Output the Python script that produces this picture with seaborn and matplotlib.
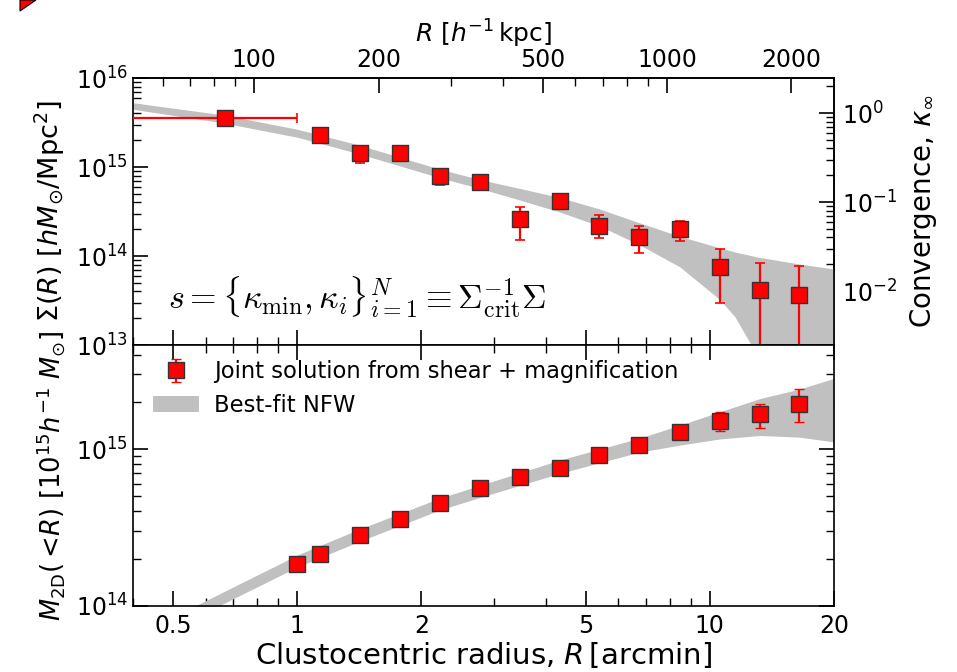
import numpy as np
import pandas as pd
import matplotlib
matplotlib.use("Agg")
import matplotlib.pyplot as plt
import seaborn as sns
from matplotlib.ticker import FixedLocator, FixedFormatter, LogLocator, NullFormatter, LogFormatterSciNotation
from matplotlib.patches import Patch, Polygon

# ---------------- data ----------------
# surface mass density profile
sigma_r = [0.668, 1.137, 1.416, 1.771, 2.215, 2.770, 3.467, 4.337, 5.40, 6.75, 8.47, 10.6, 13.25, 16.42]
sigma = [3.53e15, 2.29e15, 1.43e15, 1.45e15, 7.93e14, 6.84e14, 2.58e14, 4.18e14, 2.19e14, 1.62e14, 2.0e14, 7.47e13, 4.15e13, 3.65e13]
sigma_lo = [3.2e15, 2.1e15, 1.12e15, 1.3e15, 6.22e14, 6.1e14, 1.51e14, 3.37e14, 1.58e14, 1.07e14, 1.49e14, 2.99e13, 1e12, 1e12]
sigma_hi = [3.85e15, 2.5e15, 1.6e15, 1.6e15, 8.8e14, 7.6e14, 3.58e14, 4.6e14, 2.89e14, 2.19e14, 2.49e14, 1.19e14, 8.28e13, 7.73e13]
first_bin_left = 0.3
first_bin_right = 1.0

# best-fit NFW band, surface density
band_sig_r = [0.40, 0.665, 1.0, 1.41, 2.21, 2.80, 3.46, 4.33, 5.41, 6.77, 8.47, 10.6, 11.5, 12.6, 13.0, 16.5, 20.0]
band_sig_hi = [5.27e15, 3.84e15, 2.66e15, 1.77e15, 9.5e14, 7.14e14, 5.75e14, 4.54e14, 3.37e14, 2.35e14, 1.66e14, 1.23e14, 1.11e14, 1.01e14, 9.75e13, 8.13e13, 7.14e13]
band_sig_lo = [4.45e15, 3.12e15, 2.16e15, 1.41e15, 7.6e14, 5.66e14, 4.26e14, 3.12e14, 2.17e14, 1.33e14, 7.52e13, 3.21e13, 2.08e13, 1.0e13, 1e12, 1e12, 1e12]

# cumulative projected mass profile
mass_r = [1.0, 1.137, 1.416, 1.771, 2.215, 2.770, 3.467, 4.337, 5.40, 6.75, 8.47, 10.6, 13.25, 16.42]
mass = [1.85e14, 2.14e14, 2.82e14, 3.60e14, 4.55e14, 5.62e14, 6.61e14, 7.54e14, 9.16e14, 1.06e15, 1.28e15, 1.51e15, 1.66e15, 1.95e15]
mass_lo = [1.78e14, 2.06e14, 2.72e14, 3.47e14, 4.39e14, 5.42e14, 6.38e14, 7.27e14, 8.84e14, 1.02e15, 1.23e15, 1.31e15, 1.37e15, 1.49e15]
mass_hi = [1.92e14, 2.22e14, 2.92e14, 3.73e14, 4.71e14, 5.82e14, 6.84e14, 7.81e14, 9.48e14, 1.10e15, 1.33e15, 1.71e15, 1.95e15, 2.41e15]

# best-fit NFW band, mass
band_m_r = [0.5, 0.6, 0.703, 1.0, 1.41, 2.21, 2.79, 4.33, 6.77, 8.47, 10.6, 13.25, 16.5, 20.0]
band_m_hi = [8.55e13, 1.08e14, 1.33e14, 2.11e14, 3.08e14, 4.85e14, 5.90e14, 8.51e14, 1.175e15, 1.42e15, 1.73e15, 2.10e15, 2.41e15, 2.82e15]
band_m_lo = [7.19e13, 9.07e13, 1.12e14, 1.77e14, 2.57e14, 4.08e14, 4.94e14, 7.0e14, 9.57e14, 1.06e15, 1.16e15, 1.22e15, 1.19e15, 1.11e15]

x_ticks = [0.5, 1, 2, 5, 10, 20]
x_tick_labels = ["0.5", "1", "2", "5", "10", "20"]
kpc_ticks = [100, 200, 500, 1000, 2000]
kpc_tick_labels = ["100", "200", "500", "1000", "2000"]
kappa_ticks = [1e-2, 1e-1, 1e0]
kpc_per_arcmin = 127.0
sigma_crit = 4.04e15

legend_points = "Joint solution from shear + magnification"
legend_band = "Best-fit NFW"

# ---------------- style ----------------
sns.set_style("ticks")
plt.rcParams["font.family"] = ["DejaVu Sans"]
plt.rcParams["mathtext.fontset"] = "dejavusans"
plt.rcParams["axes.linewidth"] = 1.2
plt.rcParams["axes.edgecolor"] = "black"
plt.rcParams["xtick.color"] = "black"
plt.rcParams["ytick.color"] = "black"
plt.rcParams["text.color"] = "black"
plt.rcParams["axes.labelcolor"] = "black"

TICK = 17
RED = "#ff0000"
GRAY = "#c0c0c0"

fig = plt.figure(figsize=(9.57, 6.72), dpi=100)
L, R = 133 / 957, 834 / 957
y_top, y_mid, y_bot = 1 - 78 / 672, 1 - 345 / 672, 1 - 606 / 672
ax1 = fig.add_axes([L, y_mid, R - L, y_top - y_mid])
ax2 = fig.add_axes([L, y_bot, R - L, y_mid - y_bot], sharex=ax1)

df_sig = pd.DataFrame({"r": sigma_r, "s": sigma, "lo": sigma_lo, "hi": sigma_hi})
df_m = pd.DataFrame({"r": mass_r, "m": mass, "lo": mass_lo, "hi": mass_hi})

for ax in (ax1, ax2):
    ax.set_xscale("log")
    ax.set_yscale("log")

# ---- top panel ----
ax1.fill_between(band_sig_r, band_sig_lo, band_sig_hi, color=GRAY, lw=0, zorder=1)
xerr = np.array([[0] * len(sigma_r), [0] * len(sigma_r)], dtype=float)
xerr[0, 0] = sigma_r[0] - first_bin_left
xerr[1, 0] = first_bin_right - sigma_r[0]
yerr = np.array([df_sig.s - df_sig.lo, df_sig.hi - df_sig.s])
ax1.errorbar(df_sig.r, df_sig.s, yerr=yerr, xerr=xerr, fmt="none", ecolor=RED,
             elinewidth=1.6, capsize=3.6, capthick=1.2, zorder=3)
sns.scatterplot(x="r", y="s", data=df_sig, ax=ax1, marker="s", s=128, color=RED,
                edgecolor="#333333", linewidth=1.0, zorder=4, legend=False)
ax1.set_xlim(0.4, 20)
ax1.set_ylim(1e13, 1e16)
ax1.set_xlabel("")
ax1.set_ylabel(r"$\Sigma(R)\ [hM_{\odot}/{\rm Mpc}^2]$", fontsize=19.5, labelpad=6)
ax1.text(0.05, 0.18, r"$s=\{\kappa_{\rm min},\kappa_i\}_{i=1}^{N}\equiv\Sigma_{\rm crit}^{-1}\Sigma$",
         transform=ax1.transAxes, fontsize=24.5, math_fontfamily="cm", va="center", ha="left")

# ---- bottom panel ----
ax2.fill_between(band_m_r, band_m_lo, band_m_hi, color=GRAY, lw=0, zorder=1)
yerr2 = np.array([df_m.m - df_m.lo, df_m.hi - df_m.m])
eb = ax2.errorbar(df_m.r, df_m.m, yerr=yerr2, fmt="s", color=RED, ecolor=RED, ms=11.3,
                  mec="#333333", mew=1.0, elinewidth=1.6, capsize=3.6, capthick=1.2, zorder=3)
ax2.set_ylim(1e14, 4.6e15)
ax2.set_ylabel(r"$M_{\rm 2D}(<\!R)\ [10^{15}h^{-1}\ M_{\odot}]$", fontsize=18.5, labelpad=6)
ax2.set_xlabel(r"Clustocentric radius, $R\,$[arcmin]", fontsize=21, labelpad=1)

band_handle = Patch(facecolor=GRAY, edgecolor="none")
ax2.legend([eb, band_handle], [legend_points, legend_band], loc="upper left",
           bbox_to_anchor=(0.0, 1.019), frameon=False, fontsize=16.3, handlelength=2.0,
           handletextpad=0.7, borderaxespad=0.5, labelspacing=0.45)

# ---- ticks ----
minor_x = [v * d for d in (0.1, 1, 10) for v in range(1, 10) if 0.4 <= v * d <= 20 and v * d not in x_ticks]
for ax in (ax1, ax2):
    ax.xaxis.set_major_locator(FixedLocator(x_ticks))
    ax.xaxis.set_major_formatter(FixedFormatter(x_tick_labels))
    ax.xaxis.set_minor_locator(FixedLocator(minor_x))
    ax.xaxis.set_minor_formatter(NullFormatter())
    ax.yaxis.set_major_locator(LogLocator(base=10, numticks=10))
    ax.yaxis.set_minor_locator(LogLocator(base=10, subs=np.arange(2, 10), numticks=10))
    ax.yaxis.set_minor_formatter(NullFormatter())
    ax.tick_params(which="major", direction="in", length=11, width=1.2, labelsize=TICK)
    ax.tick_params(which="minor", direction="in", length=5.5, width=1.0)

ax1.tick_params(which="both", top=False, right=False, bottom=True, left=True, labelbottom=False)
ax2.tick_params(which="both", top=True, right=True, bottom=True, left=True)
ax2.tick_params(axis="x", which="major", pad=6)

# top axis in kpc
secx = ax1.secondary_xaxis("top", functions=(lambda x: x * kpc_per_arcmin, lambda k: k / kpc_per_arcmin))
secx.xaxis.set_major_locator(FixedLocator(kpc_ticks))
secx.xaxis.set_major_formatter(FixedFormatter(kpc_tick_labels))
minor_k = [v * d for d in (10, 100, 1000) for v in range(1, 10) if 51 <= v * d <= 2540 and v * d not in kpc_ticks]
secx.xaxis.set_minor_locator(FixedLocator(minor_k))
secx.xaxis.set_minor_formatter(NullFormatter())
secx.tick_params(which="major", direction="in", length=11, width=1.2, labelsize=TICK, pad=4)
secx.tick_params(which="minor", direction="in", length=5.5, width=1.0)
secx.set_xlabel(r"$R\ [h^{-1}\,$kpc$]$", fontsize=18, labelpad=4)

# right axis: convergence
secy = ax1.secondary_yaxis("right", functions=(lambda s: s / sigma_crit, lambda k: k * sigma_crit))
secy.yaxis.set_major_locator(FixedLocator(kappa_ticks))
secy.yaxis.set_major_formatter(LogFormatterSciNotation())
minor_kap = [v * d for d in (1e-3, 1e-2, 1e-1, 1e0) for v in range(2, 10) if 2.5e-3 <= v * d <= 2.4]
secy.yaxis.set_minor_locator(FixedLocator(minor_kap))
secy.yaxis.set_minor_formatter(NullFormatter())
secy.tick_params(which="major", direction="in", length=11, width=1.2, labelsize=TICK, pad=6)
secy.tick_params(which="minor", direction="in", length=5.5, width=1.0)
secy.set_ylabel(r"Convergence, $\kappa_{\infty}$", fontsize=20, labelpad=8)

for ax in (ax1, ax2):
    for s in ax.spines.values():
        s.set_visible(True)
        s.set_linewidth(1.2)
        s.set_color("black")

# small red corner artifact seen in the reference
fig.add_artist(Polygon([[20 / 957, 1.0], [36 / 957, 1.0], [20 / 957, 1 - 11 / 672]], closed=True,
                       transform=fig.transFigure, facecolor=RED, edgecolor="black", lw=0.8))

fig.savefig("out.png", dpi=100)
